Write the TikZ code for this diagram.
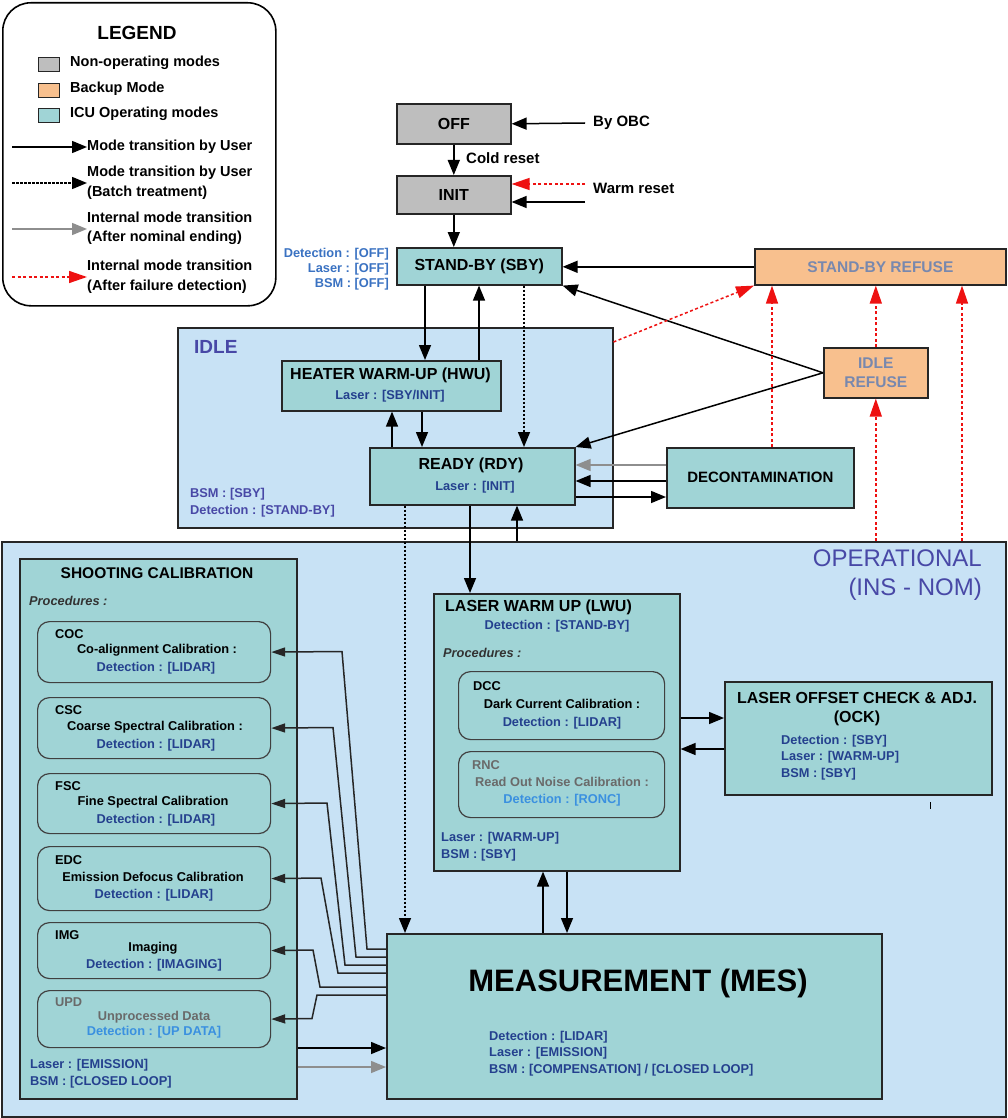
\documentclass[tikz,border=0pt]{standalone}
\usepackage{fontspec}
\setmainfont{Liberation Sans}
\usetikzlibrary{arrows.meta}
\definecolor{teal1}{HTML}{A0D4D6}
\definecolor{bgblue}{HTML}{C8E2F5}
\definecolor{gray1}{HTML}{BEBEBE}
\definecolor{orange1}{HTML}{F8C08E}
\definecolor{navy}{HTML}{24408E}
\definecolor{brblue}{HTML}{3A72C2}
\definecolor{ltblue}{HTML}{3A90E0}
\definecolor{slate}{HTML}{4848A6}
\definecolor{refusec}{HTML}{7888AE}
\definecolor{redd}{HTML}{EE1111}
\definecolor{grayline}{HTML}{8E8E8E}
\definecolor{graytext}{HTML}{6A6A6A}
\newcommand\myfs[2]{\fontsize{#1}{#2}\selectfont}
\begin{document}
\begin{tikzpicture}[x=1pt,y=-1pt,
  region/.style={draw=black!85, line width=1.5pt, fill=bgblue, inner sep=0, anchor=north west},
  box/.style={draw=black!85, line width=1.6pt, fill=teal1, inner sep=0, anchor=north west, font=\bfseries\myfs{16}{19}, align=center},
  gbox/.style={box, fill=gray1},
  obox/.style={box, fill=orange1, text=refusec, font=\bfseries\myfs{15.5}{19}},
  subbox/.style={draw=black!75, line width=1.2pt, rounded corners=12pt, fill=teal1, inner sep=0, anchor=north west},
  smt/.style={inner sep=0, font=\bfseries\myfs{12.8}{16}},
  ttl/.style={inner sep=0, font=\bfseries\myfs{16}{19}},
  lgt/.style={inner sep=0, font=\bfseries\myfs{14.5}{19.5}, align=left, anchor=west},
  tip/.style={-{Triangle[length=15pt,width=12pt]}},
  arr/.style={line width=1.5pt, tip},
  darr/.style={arr, dash pattern=on 2.5pt off 1.5pt},
  garr/.style={arr, draw=grayline, fill=grayline},
  rarr/.style={line width=1.5pt, draw=redd, dash pattern=on 3pt off 2.5pt, -{Triangle[length=18pt,width=12pt]}},
  parr/.style={line width=1.5pt, draw=black!85, -{Triangle[length=14pt,width=9pt]}}
]
\path[use as bounding box] (0,0) rectangle (1007,1118);
\fill[white] (0,0) rectangle (1007,1118);

% ---------- regions
\node[region, minimum width=1004pt, minimum height=575pt] (oper) at (1,541) {};
\node[region, minimum width=435pt, minimum height=200pt] (idle) at (177,327) {};

% ---------- legend
\node[draw=black, line width=1.6pt, rounded corners=28pt, fill=white, inner sep=0, anchor=north west,
      minimum width=273pt, minimum height=303pt] (legend) at (2,2) {};
\node[inner sep=0, font=\bfseries\myfs{19}{22}] (legtitle) at (137,33) {LEGEND};
\node[draw=black!85, line width=1.2pt, fill=gray1, minimum width=21pt, minimum height=14pt, inner sep=0, anchor=north west] (sw1) at (38,57) {};
\node[draw=black!85, line width=1.2pt, fill=orange1, minimum width=21pt, minimum height=14pt, inner sep=0, anchor=north west] (sw2) at (38,83) {};
\node[draw=black!85, line width=1.2pt, fill=teal1, minimum width=21pt, minimum height=14pt, inner sep=0, anchor=north west] (sw3) at (38,108) {};
\node[lgt] (lt1) at (70,63) {Non-operating modes};
\node[lgt] (lt2) at (70,89) {Backup Mode};
\node[lgt] (lt3) at (70,114) {ICU Operating modes};
\coordinate (la1) at (12,147); \coordinate (lb1) at (87,147);
\coordinate (la2) at (12,183); \coordinate (lb2) at (87,183);
\coordinate (la3) at (12,229); \coordinate (lb3) at (87,229);
\coordinate (la4) at (12,277); \coordinate (lb4) at (87,277);
\draw[arr] (la1) -- (lb1);
\draw[darr] (la2) -- (lb2);
\draw[garr] (la3) -- (lb3);
\draw[rarr] (la4) -- (lb4);
\node[lgt] (lt4) at (87,147) {Mode transition by User};
\node[lgt] (lt5) at (87,183) {Mode transition by User\\(Batch treatment)};
\node[lgt] (lt6) at (87,228.5) {Internal mode transition\\(After nominal ending)};
\node[lgt] (lt7) at (87,276.5) {Internal mode transition\\(After failure detection)};

% ---------- top boxes
\node[gbox, minimum width=114pt, minimum height=40pt] (off) at (396,103) {OFF};
\node[gbox, minimum width=114pt, minimum height=38pt] (init) at (396,175) {INIT};
\node[box, minimum width=165pt, minimum height=37pt] (sby) at (396,247) {STAND-BY (SBY)};
\node[obox, minimum width=251pt, minimum height=36pt] (sbyr) at (754,248) {STAND-BY REFUSE};
\node[obox, minimum width=104pt, minimum height=50pt] (idler) at (823,347) {IDLE\\REFUSE};

\node[smt, text=brblue, anchor=east] (sbyl1) at (389,254) {Detection : [OFF]};
\node[smt, text=brblue, anchor=east] (sbyl2) at (389,269) {Laser : [OFF]};
\node[smt, text=brblue, anchor=east] (sbyl3) at (389,284) {BSM : [OFF]};

\coordinate (obc) at (585,123);
\coordinate (wr1) at (585,184);
\coordinate (wr2) at (585,202);
\node[inner sep=0, anchor=west, font=\bfseries\myfs{15}{18}] (obct) at (593,123) {By OBC};
\node[inner sep=0, anchor=west, font=\bfseries\myfs{15}{18}] (wrt) at (593,188) {Warm reset};
\node[inner sep=0, anchor=west, font=\bfseries\myfs{15}{18}] (crt) at (466,158) {Cold reset};

% ---------- IDLE content
\node[inner sep=0, anchor=west, text=slate, font=\bfseries\myfs{19}{22}] (idlet) at (194,347) {IDLE};
\node[box, minimum width=219pt, minimum height=50pt] (hwu) at (281,360) {};
\node[ttl] (hwut) at (390.5,375) {HEATER WARM-UP (HWU)};
\node[smt, text=navy] (hwul) at (390,396) {Laser : [SBY/INIT]};
\node[box, minimum width=205pt, minimum height=57pt] (rdy) at (369,447) {};
\node[ttl] (rdyt) at (471,465) {READY (RDY)};
\node[smt, text=navy] (rdyl) at (475,487) {Laser : [INIT]};
\node[smt, text=slate, anchor=west] (idl1) at (190,494) {BSM : [SBY]};
\node[smt, text=slate, anchor=west] (idl2) at (190,511) {Detection : [STAND-BY]};
\node[box, minimum width=187pt, minimum height=60pt, font=\bfseries\myfs{15}{18}] (decon) at (666,447) {DECONTAMINATION};

% ---------- OPERATIONAL content
\node[inner sep=0, anchor=north east, align=right, text=slate, font=\myfs{24}{29}] (opert) at (982,550) {OPERATIONAL\\(INS - NOM)};

% shooting calibration
\node[box, minimum width=277pt, minimum height=540pt] (sc) at (19,558) {};
\node[ttl, font=\bfseries\myfs{15.5}{18}] (sct) at (157,573) {SHOOTING CALIBRATION};
\node[smt, anchor=west, text=black!80, font=\bfseries\itshape\myfs{12.8}{16}] (scp) at (29,601) {Procedures :};

\node[subbox, minimum width=233pt, minimum height=61pt] (coc) at (37,621) {};
\node[subbox, minimum width=233pt, minimum height=61pt] (csc) at (37,697) {};
\node[subbox, minimum width=233pt, minimum height=60pt] (fsc) at (37,773) {};
\node[subbox, minimum width=233pt, minimum height=64pt] (edc) at (37,846) {};
\node[subbox, minimum width=233pt, minimum height=56pt] (img) at (37,922) {};
\node[subbox, minimum width=233pt, minimum height=57pt] (upd) at (37,990) {};

\node[smt, anchor=west] (coc1) at (55,634) {COC};
\node[smt] (coc2) at (157,650) {Co-alignment Calibration :};
\node[smt, text=navy] (coc3) at (156,668) {Detection : [LIDAR]};
\node[smt, anchor=west] (csc1) at (55,710) {CSC};
\node[smt] (csc2) at (155,727) {Coarse Spectral Calibration :};
\node[smt, text=navy] (csc3) at (156,745) {Detection : [LIDAR]};
\node[smt, anchor=west] (fsc1) at (55,786) {FSC};
\node[smt] (fsc2) at (153,802) {Fine Spectral Calibration};
\node[smt, text=navy] (fsc3) at (156,820) {Detection : [LIDAR]};
\node[smt, anchor=west] (edc1) at (55,860) {EDC};
\node[smt] (edc2) at (153,877) {Emission Defocus Calibration};
\node[smt, text=navy] (edc3) at (154,895) {Detection : [LIDAR]};
\node[smt, anchor=west] (img1) at (55,935) {IMG};
\node[smt] (img2) at (153,948) {Imaging};
\node[smt, text=navy] (img3) at (154,965) {Detection : [IMAGING]};
\node[smt, anchor=west, text=graytext] (upd1) at (55,1002) {UPD};
\node[smt, text=graytext] (upd2) at (154,1017) {Unprocessed Data};
\node[smt, text=ltblue] (upd3) at (154,1032) {Detection : [UP DATA]};
\node[smt, anchor=west, text=navy] (scl1) at (30,1065) {Laser : [EMISSION]};
\node[smt, anchor=west, text=navy] (scl2) at (30,1082) {BSM : [CLOSED LOOP]};

% laser warm up
\node[box, minimum width=246pt, minimum height=277pt] (lwu) at (433,593) {};
\node[ttl, anchor=west] (lwut) at (445,607) {LASER WARM UP (LWU)};
\node[smt, text=navy] (lwud) at (557,626) {Detection : [STAND-BY]};
\node[smt, anchor=west, text=black!80, font=\bfseries\itshape\myfs{12.8}{16}] (lwup) at (443,653) {Procedures :};
\node[subbox, minimum width=206pt, minimum height=68pt] (dcc) at (458,671) {};
\node[subbox, minimum width=206pt, minimum height=66pt] (rnc) at (458,751) {};
\node[smt, anchor=west] (dcc1) at (473,686) {DCC};
\node[smt] (dcc2) at (562,704) {Dark Current Calibration :};
\node[smt, text=navy] (dcc3) at (562,723) {Detection : [LIDAR]};
\node[smt, anchor=west, text=graytext] (rnc1) at (472,765) {RNC};
\node[smt, text=graytext] (rnc2) at (562,782) {Read Out Noise Calibration :};
\node[smt, text=ltblue] (rnc3) at (562,800) {Detection : [RONC]};
\node[smt, anchor=west, text=navy] (lwul1) at (441,838) {Laser : [WARM-UP]};
\node[smt, anchor=west, text=navy] (lwul2) at (441,855) {BSM : [SBY]};

% OCK
\node[box, minimum width=267pt, minimum height=113pt] (ock) at (724,681) {};
\node[ttl] (ockt1) at (857,698) {LASER OFFSET CHECK \& ADJ.};
\node[ttl] (ockt2) at (857,718) {(OCK)};
\node[smt, anchor=west, text=navy] (ock1) at (781,741) {Detection : [SBY]};
\node[smt, anchor=west, text=navy] (ock2) at (781,757) {Laser : [WARM-UP]};
\node[smt, anchor=west, text=navy] (ock3) at (781,774) {BSM : [SBY]};
\draw[line width=1pt] (930,802) -- (930,809);

% MES
\node[box, minimum width=495pt, minimum height=165pt] (mes) at (386,933) {};
\node[inner sep=0, font=\bfseries\myfs{31}{36}] (mest) at (638,983) {MEASUREMENT (MES)};
\node[smt, anchor=west, text=navy] (mes1) at (489,1037) {Detection : [LIDAR]};
\node[smt, anchor=west, text=navy] (mes2) at (489,1053) {Laser : [EMISSION]};
\node[smt, anchor=west, text=navy] (mes3) at (489,1070) {BSM : [COMPENSATION] / [CLOSED LOOP]};

% ---------- helper coordinates
\coordinate (xa) at (425,0); \coordinate (xb) at (479,0); \coordinate (xc) at (524,0);
\coordinate (xd) at (392,0); \coordinate (xe) at (422,0); \coordinate (xf) at (405,0);
\coordinate (xg) at (470,0); \coordinate (xh) at (517,0); \coordinate (xi) at (543,0);
\coordinate (xj) at (567,0); \coordinate (xr1) at (772,0); \coordinate (xr2) at (962,0);
\coordinate (ya) at (0,465); \coordinate (yb) at (0,481); \coordinate (yc) at (0,497);
\coordinate (yd) at (0,718); \coordinate (ye) at (0,749); \coordinate (yf) at (0,1048);
\coordinate (yg) at (0,1067);

% ---------- connectors
\draw[arr] (obc) -- (off.east);
\draw[arr] (off.south) -- (init.north);
\draw[rarr] (wr1) -- (wr1 -| init.east);
\draw[arr] (wr2) -- (wr2 -| init.east);
\draw[arr] (init.south) -- (init.south |- sby.north);
\draw[arr] (sbyr.west) -- (sbyr.west -| sby.east);
\draw[arr] (idler.west) -- (sby.south east);
\draw[arr] (idler.west) -- (rdy.north east);
\draw[rarr] ([yshift=-15pt]idle.north east) -- (sbyr.south west);
\draw[rarr] (decon.north -| xr1) -- (sbyr.south -| xr1);
\draw[rarr] (idler.north) -- (idler.north |- sbyr.south);
\draw[rarr] (idler.south |- oper.north) -- (idler.south);
\draw[rarr] (oper.north -| xr2) -- (sbyr.south -| xr2);

\draw[arr] (sby.south -| xa) -- (hwu.north -| xa);
\draw[arr] (hwu.north -| xb) -- (sby.south -| xb);
\draw[darr] (sby.south -| xc) -- (rdy.north -| xc);
\draw[arr] (rdy.north -| xd) -- (hwu.south -| xd);
\draw[arr] (hwu.south -| xe) -- (rdy.north -| xe);
\draw[garr] (ya -| decon.west) -- (ya -| rdy.east);
\draw[arr] (yb -| decon.west) -- (yb -| rdy.east);
\draw[arr] (yc -| rdy.east) -- (yc -| decon.west);
\draw[darr] (rdy.south -| xf) -- (mes.north -| xf);
\draw[arr] (rdy.south -| xg) -- (lwu.north -| xg);
\draw[arr] (oper.north -| xh) -- (rdy.south -| xh);
\draw[arr] (yd -| lwu.east) -- (yd -| ock.west);
\draw[arr] (ye -| ock.west) -- (ye -| lwu.east);
\draw[arr] (mes.north -| xi) -- (lwu.south -| xi);
\draw[arr] (lwu.south -| xj) -- (mes.north -| xj);
\draw[arr] (yf -| sc.east) -- (yf -| mes.west);
\draw[garr] (yg -| sc.east) -- (yg -| mes.west);

\draw[parr] ([yshift=-16pt]mes.north west) -- (367,949) -- (342,651.5) -- (coc.east);
\draw[parr] ([yshift=-24pt]mes.north west) -- (356,957) -- (333,727.5) -- (csc.east);
\draw[parr] ([yshift=-32pt]mes.north west) -- (345,965) -- (327,803) -- (fsc.east);
\draw[parr] ([yshift=-40pt]mes.north west) -- (338,973) -- (321,878) -- (edc.east);
\draw[parr] ([yshift=-54pt]mes.north west) -- (320,987) -- (313,950) -- (img.east);
\draw[parr] ([yshift=-62pt]mes.north west) -- (317,995) -- (312,1018.5) -- (upd.east);
\end{tikzpicture}
\end{document}
